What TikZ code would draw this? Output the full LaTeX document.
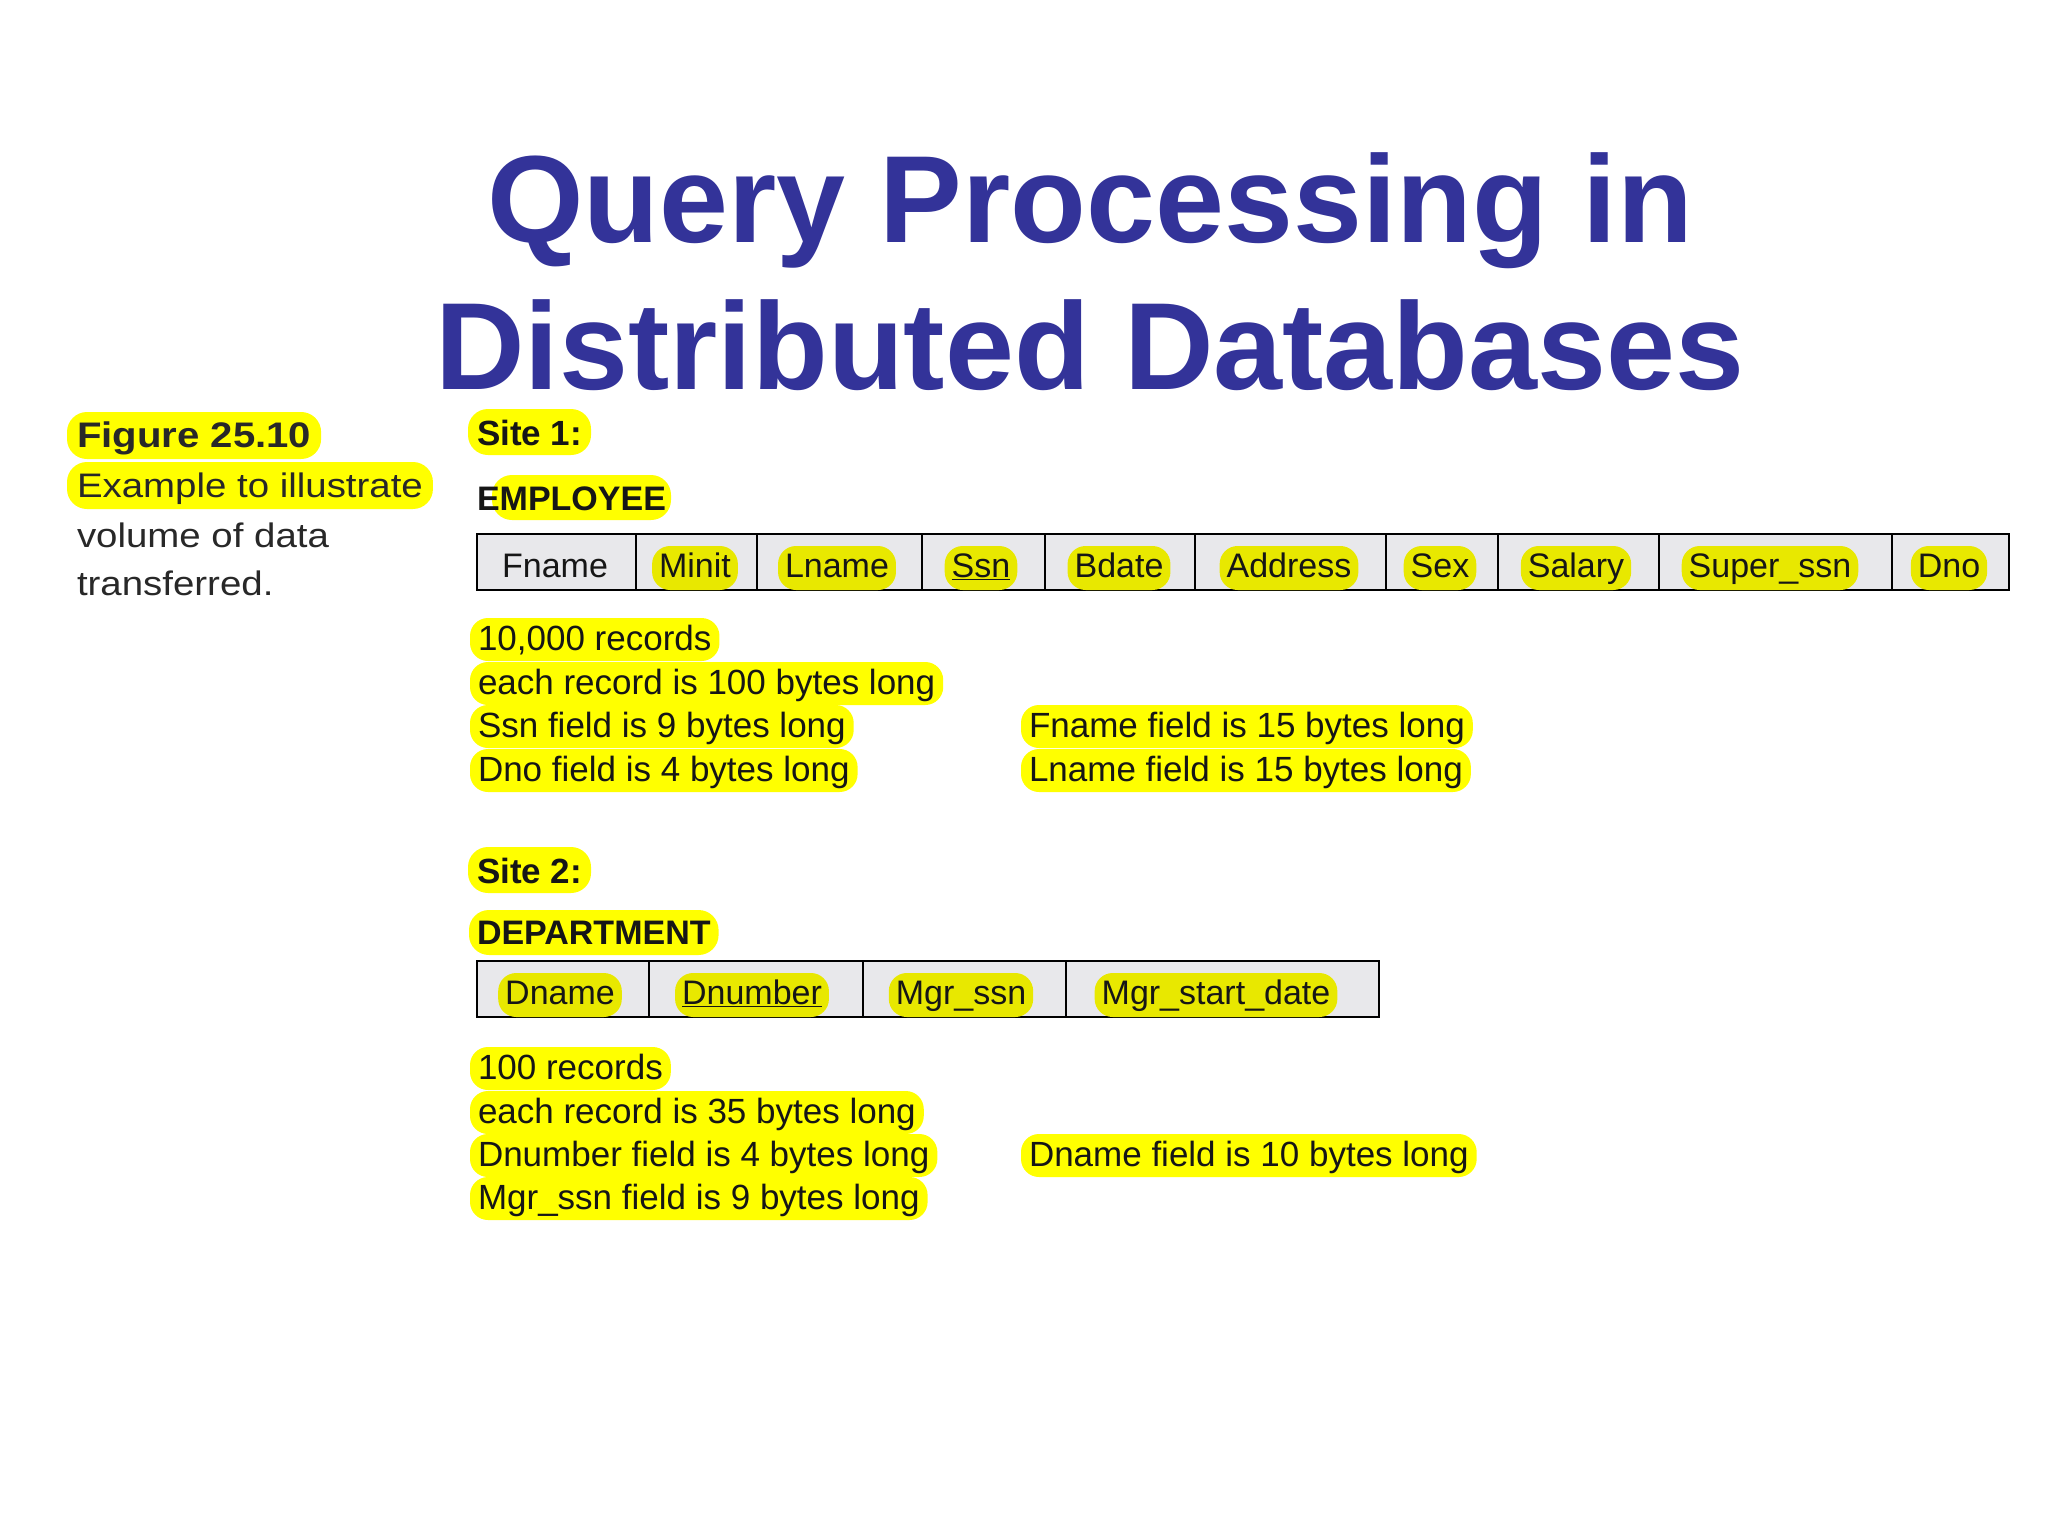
\documentclass[tikz,border=0pt]{standalone}
\usepackage{fontspec}
\setmainfont{Liberation Sans}
\newfontfamily\figfont[FakeStretch=1.13]{Liberation Sans}
\definecolor{titleblue}{RGB}{51,51,153}
\definecolor{hly}{RGB}{255,255,0}
\definecolor{hlcell}{RGB}{232,232,0}
\definecolor{cellgray}{RGB}{232,232,235}
\definecolor{txt}{RGB}{22,22,22}
\definecolor{figtxt}{RGB}{40,40,40}
\begin{document}
\begin{tikzpicture}[x=1pt,y=-1pt,
  every node/.style={inner sep=0pt, outer sep=0pt},
  titletext/.style={anchor=base, font=\fontsize{124}{148}\selectfont\bfseries, text=titleblue},
  figline/.style={anchor=base west, font=\figfont\fontsize{34}{40}\selectfont, text=figtxt, text height=30pt, text depth=7pt, inner xsep=10pt, inner ysep=5pt},
  fighl/.style={figline, fill=hly, rounded corners=20pt},
  sitelabel/.style={anchor=base west, font=\fontsize{35}{40}\selectfont\bfseries, text=txt, fill=hly, rounded corners=20pt, text height=31pt, text depth=5pt, inner xsep=9pt, inner ysep=5pt},
  relname/.style={anchor=base west, font=\fontsize{34}{40}\selectfont\bfseries, text=txt, text height=29pt, text depth=6pt, inner xsep=8pt, inner ysep=5pt},
  note/.style={anchor=base west, font=\fontsize{35}{40}\selectfont, text=txt, fill=hly, rounded corners=18pt, text height=27pt, text depth=6pt, inner xsep=8pt, inner ysep=5pt},
  cellhl/.style={anchor=base, font=\fontsize{34}{40}\selectfont, text=txt, fill=hlcell, rounded corners=18pt, text height=26pt, text depth=8pt, inner xsep=7pt, inner ysep=5pt},
  cellplain/.style={cellhl, fill=none},
  tablebox/.style={draw=black, line width=2.5pt, fill=cellgray},
  divider/.style={draw=black, line width=2pt}
]
\useasboundingbox (0,0) rectangle (2048,1536);
\fill[white] (0,0) rectangle (2048,1536);

% title
\node[titletext] (t1) at (1090,242) {Query Processing in};
\node[titletext] (t2) at (1090,389) {Distributed Databases};

% figure caption
\node[fighl, font=\figfont\fontsize{35.5}{40}\selectfont\bfseries] (f1) at (67,447) {Figure 25.10};
\node[fighl] (f2) at (67,497) {Example to illustrate};
\node[figline] (f3) at (67,547) {volume of data};
\node[figline] (f4) at (67,595) {transferred.};

% site 1
\node[sitelabel] (s1) at (468,445) {Site 1:};
\fill[hly, rounded corners=20pt] (492,475) rectangle (671,520);
\node[relname] (emp) at (469,510) {EMPLOYEE};

\draw[tablebox] (477,534) rectangle (2009,590);
\foreach \x in {636,757,922,1045,1195,1386,1498,1659,1892}
  \draw[divider] (\x,534) -- (\x,590);
\node[cellplain] (c1) at (555,577) {Fname};
\node[cellhl] (c2) at (695,577) {Minit};
\node[cellhl] (c3) at (837,577) {Lname};
\node[cellhl] (c4) at (981,577) {\underline{Ssn}};
\node[cellhl] (c5) at (1119,577) {Bdate};
\node[cellhl] (c6) at (1289,577) {Address};
\node[cellhl] (c7) at (1440,577) {Sex};
\node[cellhl] (c8) at (1576,577) {Salary};
\node[cellhl] (c9) at (1770,577) {Super\_ssn};
\node[cellhl] (c10) at (1949,577) {Dno};

\node[note] (n1) at (470,650) {10,000 records};
\node[note] (n2) at (470,694) {each record is 100 bytes long};
\node[note] (n3) at (470,737) {Ssn field is 9 bytes long};
\node[note] (n4) at (470,781) {Dno field is 4 bytes long};
\node[note] (n5) at (1021,737) {Fname field is 15 bytes long};
\node[note] (n6) at (1021,781) {Lname field is 15 bytes long};

% site 2
\node[sitelabel] (s2) at (468,883) {Site 2:};
\node[relname, fill=hly, rounded corners=20pt] (dep) at (469,944) {DEPARTMENT};

\draw[tablebox] (477,961) rectangle (1379,1017);
\foreach \x in {649,863,1066}
  \draw[divider] (\x,961) -- (\x,1017);
\node[cellhl] (d1) at (560,1004) {Dname};
\node[cellhl] (d2) at (752,1004) {\underline{Dnumber}};
\node[cellhl] (d3) at (961,1004) {Mgr\_ssn};
\node[cellhl] (d4) at (1216,1004) {Mgr\_start\_date};

\node[note] (m1) at (470,1079) {100 records};
\node[note] (m2) at (470,1123) {each record is 35 bytes long};
\node[note] (m3) at (470,1166) {Dnumber field is 4 bytes long};
\node[note] (m4) at (470,1209) {Mgr\_ssn field is 9 bytes long};
\node[note] (m5) at (1021,1166) {Dname field is 10 bytes long};
\end{tikzpicture}
\end{document}
